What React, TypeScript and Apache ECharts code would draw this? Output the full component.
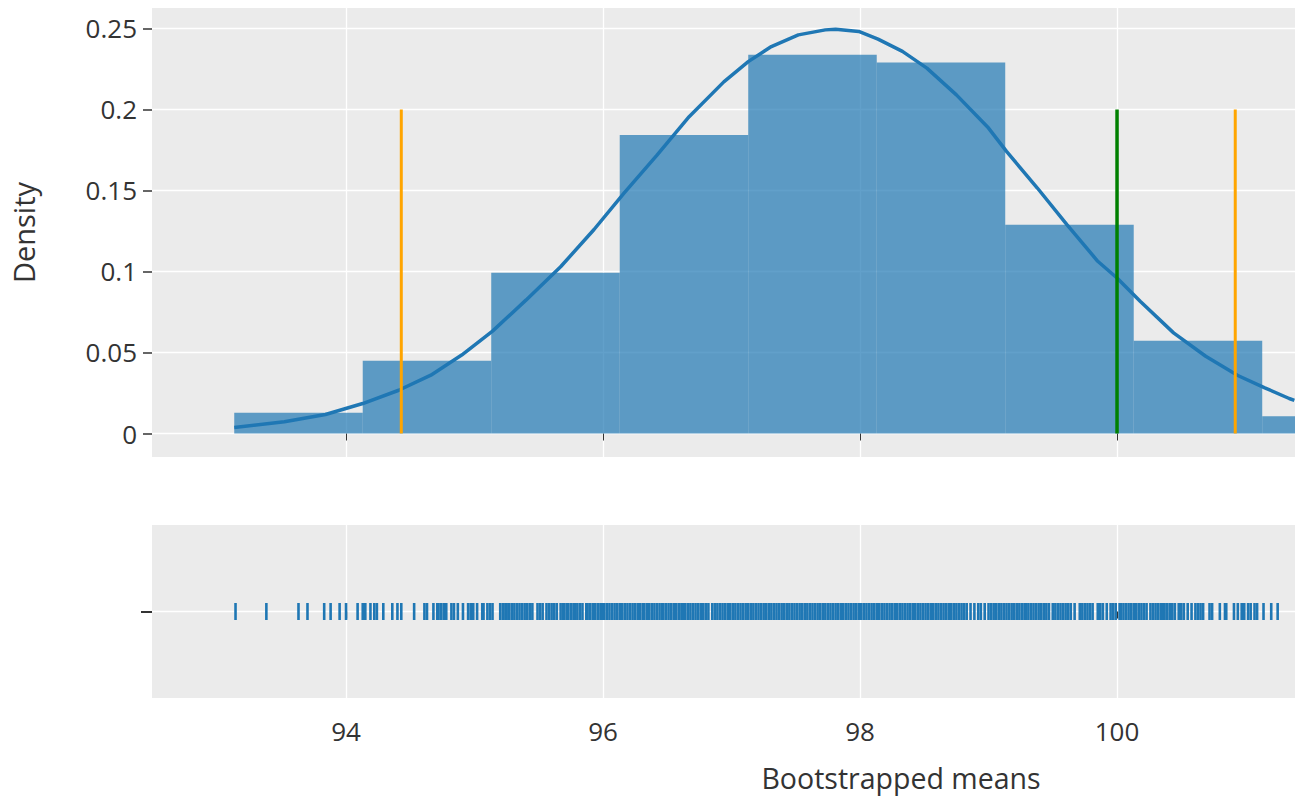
import React, { useEffect, useRef } from "react";
import * as echarts from "echarts";

// ---- data ----
const binStarts = [93.13, 94.13, 95.13, 96.13, 97.13, 98.13, 99.13, 100.13, 101.13];
const binWidth = 1.0;
const densities = [0.0128, 0.0449, 0.0992, 0.1842, 0.2337, 0.229, 0.1289, 0.0573, 0.0107];

const curveX = [
  93.13, 93.52, 93.84, 94.13, 94.41, 94.66, 94.9, 95.14, 95.4, 95.67, 95.93, 96.16, 96.42,
  96.67, 96.94, 97.13, 97.31, 97.52, 97.73, 97.81, 97.99, 98.14, 98.33, 98.52, 98.75, 99.0,
  99.14, 99.38, 99.61, 99.85, 100.0, 100.18, 100.44, 100.69, 100.94, 101.15, 101.34, 101.38,
];
const curveY = [
  0.0037, 0.0072, 0.0117, 0.0185, 0.0267, 0.036, 0.0484, 0.0632, 0.0823, 0.1029, 0.1259, 0.1481,
  0.1718, 0.1955, 0.217, 0.2295, 0.2388, 0.246, 0.2491, 0.2495, 0.2481, 0.2434, 0.2358, 0.2255,
  0.209, 0.1885, 0.1741, 0.1515, 0.1289, 0.1063, 0.096, 0.0816, 0.0621, 0.0477, 0.0358, 0.0282,
  0.0216, 0.0205,
];

const ciLower = 94.43;
const ciUpper = 100.92;
const nullValue = 100;
const markerTop = 0.2;

const rugValues = [
  93.14, 93.38, 93.63, 93.7, 93.83, 93.88, 93.95, 94.0, 94.09, 94.13, 94.15, 94.19, 94.22, 94.24,
  94.29, 94.36, 94.4, 94.43, 94.53,
  94.61, 94.63, 94.68, 94.71, 94.72, 94.74, 94.76, 94.78, 94.82, 94.84, 94.87, 94.91, 94.95,
  94.97, 94.99, 95.02, 95.06, 95.07, 95.1, 95.12, 95.14,
  95.2, 95.22, 95.24, 95.25, 95.27, 95.29, 95.31, 95.33, 95.35, 95.37, 95.39, 95.41, 95.43,
  95.45, 95.49, 95.51, 95.53, 95.56, 95.58, 95.6, 95.62, 95.64, 95.67, 95.69, 95.7, 95.72,
  95.73, 95.75, 95.77, 95.78, 95.8, 95.82, 95.84, 95.87, 95.88, 95.9, 95.92, 95.94, 95.96, 95.98,
  95.99, 96.01, 96.03, 96.05, 96.07, 96.09, 96.11, 96.13, 96.15, 96.17, 96.19, 96.21, 96.23,
  96.25, 96.27, 96.29, 96.31, 96.32, 96.34, 96.36, 96.38, 96.4, 96.42, 96.44, 96.46, 96.47,
  96.49, 96.51, 96.53, 96.55, 96.57, 96.59, 96.61, 96.62, 96.64, 96.66, 96.68, 96.7, 96.72,
  96.74, 96.76, 96.78, 96.8, 96.82,
  96.85, 96.87, 96.89, 96.91, 96.93, 96.95, 96.97, 96.99, 97.01, 97.03, 97.05, 97.07, 97.09,
  97.11, 97.13, 97.15, 97.17, 97.19, 97.21, 97.23, 97.25, 97.27, 97.29, 97.31, 97.33, 97.35,
  97.37, 97.39,
  97.41, 97.43, 97.45, 97.47, 97.49, 97.51, 97.53, 97.55, 97.57, 97.59, 97.61, 97.63, 97.65,
  97.67, 97.69, 97.71, 97.73, 97.75, 97.77, 97.79, 97.81, 97.83, 97.85, 97.87, 97.89, 97.91,
  97.93, 97.95, 97.97, 97.99, 98.01, 98.03, 98.05, 98.07, 98.09, 98.11, 98.13, 98.15, 98.17,
  98.19, 98.21, 98.23, 98.25, 98.27, 98.29, 98.31, 98.33, 98.35, 98.37, 98.39, 98.41, 98.43, 98.45,
  98.47, 98.49, 98.51, 98.53, 98.55, 98.57, 98.59, 98.61, 98.63, 98.65, 98.67, 98.69, 98.71,
  98.73, 98.75, 98.77, 98.79, 98.81, 98.83, 98.86, 98.89, 98.92, 98.94, 98.97, 99.0, 99.02,
  99.04, 99.06, 99.08, 99.1, 99.12, 99.14, 99.16, 99.18, 99.2, 99.22, 99.24, 99.26, 99.28,
  99.29, 99.31, 99.33, 99.35, 99.37, 99.39, 99.41, 99.43, 99.45, 99.47, 99.5, 99.52, 99.54,
  99.56, 99.58, 99.6, 99.62, 99.64, 99.67, 99.71, 99.73, 99.75, 99.77, 99.79, 99.81, 99.85,
  99.87, 99.89, 99.92,
  99.95, 99.97, 99.99, 100.02, 100.03, 100.05, 100.07, 100.09, 100.11, 100.13, 100.15, 100.17,
  100.19, 100.21, 100.23, 100.26, 100.28, 100.3, 100.32, 100.34, 100.36, 100.37, 100.39,
  100.41, 100.43, 100.45, 100.48, 100.5, 100.52, 100.55, 100.58, 100.61, 100.63, 100.65,
  100.67, 100.72, 100.74, 100.8, 100.84, 100.85, 100.91, 100.94, 100.97, 100.99, 101.02,
  101.04, 101.07, 101.09, 101.14, 101.2, 101.25,
];

const xTicks = [94, 96, 98, 100];
const yTicks = [0, 0.05, 0.1, 0.15, 0.2, 0.25];
const rugTicks = [0];

const X_MIN = 92.49;
const X_MAX = 101.385;
const Y_MIN = -0.0145;
const Y_MAX = 0.2626;

const X_TITLE = "Bootstrapped means";
const Y_TITLE = "Density";

const FONT = "'Open Sans', sans-serif";
const TXT = "rgb(51,51,51)";
const BG = "rgb(235,235,235)";
const BLUE = "#1f77b4";

export default function App() {
  const ref = useRef<HTMLDivElement>(null);

  useEffect(() => {
    if (!ref.current) return;
    const chart = echarts.init(ref.current, undefined, { renderer: "svg" });

    const splitLine = { show: true, lineStyle: { color: "#ffffff", width: 1.3 } };

    const option: any = {
      animation: false,
      grid: [
        { left: 152, top: 8, right: 0, height: 449, show: true, backgroundColor: BG, borderWidth: 0 },
        { left: 152, top: 525, right: 0, height: 173, show: true, backgroundColor: BG, borderWidth: 0 },
      ],
      graphic: [
        {
          type: "text",
          x: 901,
          y: 778,
          silent: true,
          style: {
            text: X_TITLE,
            fontSize: 28.5,
            lineHeight: 30,
            fontFamily: FONT,
            fill: TXT,
            align: "center",
            verticalAlign: "middle",
          },
        },
      ],
      xAxis: [
        {
          type: "value",
          gridIndex: 0,
          min: X_MIN,
          max: X_MAX,
          axisLine: { show: false },
          axisTick: { show: true, length: 7, customValues: xTicks, lineStyle: { color: TXT, width: 1 } },
          axisLabel: { show: false, customValues: xTicks },
          splitLine,
        },
        {
          type: "value",
          gridIndex: 1,
          min: X_MIN,
          max: X_MAX,
          axisLine: { show: false },
          axisTick: { show: true, length: 7, customValues: xTicks, lineStyle: { color: TXT, width: 1.3 } },
          axisLabel: { show: true, customValues: xTicks, fontSize: 26, color: TXT, fontFamily: FONT, margin: 20 },
          splitLine,
        },
      ],
      yAxis: [
        {
          type: "value",
          gridIndex: 0,
          min: Y_MIN,
          max: Y_MAX,
          axisLine: { show: false },
          axisTick: { show: true, length: 9, customValues: yTicks, lineStyle: { color: TXT, width: 1.5 } },
          axisLabel: { show: true, customValues: yTicks, fontSize: 26, color: TXT, fontFamily: FONT, margin: 15 },
          splitLine,
          name: Y_TITLE,
          nameLocation: "middle",
          nameGap: 114,
          nameRotate: 90,
          nameTextStyle: { fontSize: 29, color: TXT, fontFamily: FONT },
        },
        {
          type: "value",
          gridIndex: 1,
          min: -1,
          max: 1,
          axisLine: { show: false },
          axisTick: { show: true, length: 11, customValues: rugTicks, lineStyle: { color: TXT, width: 2 } },
          axisLabel: { show: false, customValues: rugTicks },
          splitLine,
        },
      ],
      series: [
        {
          type: "custom",
          xAxisIndex: 0,
          yAxisIndex: 0,
          clip: true,
          silent: true,
          encode: { x: 0, y: 1 },
          data: binStarts.map((s, i) => [s, densities[i]]),
          renderItem: (params: any, api: any) => {
            const x0 = api.value(0);
            const y = api.value(1);
            const p0 = api.coord([x0, y]);
            const p1 = api.coord([x0 + binWidth, 0]);
            return {
              type: "rect",
              shape: { x: p0[0], y: p0[1], width: p1[0] - p0[0], height: p1[1] - p0[1] },
              style: { fill: "rgba(31,119,180,0.7)" },
            };
          },
          z: 2,
        },
        {
          type: "line",
          xAxisIndex: 0,
          yAxisIndex: 0,
          silent: true,
          showSymbol: false,
          data: curveX.map((x, i) => [x, curveY[i]]),
          lineStyle: { color: BLUE, width: 3.5 },
          z: 3,
        },
        {
          type: "line",
          xAxisIndex: 0,
          yAxisIndex: 0,
          silent: true,
          showSymbol: false,
          data: [[ciLower, 0], [ciLower, markerTop]],
          lineStyle: { color: "#FFA500", width: 3 },
          z: 4,
        },
        {
          type: "line",
          xAxisIndex: 0,
          yAxisIndex: 0,
          silent: true,
          showSymbol: false,
          data: [[ciUpper, 0], [ciUpper, markerTop]],
          lineStyle: { color: "#FFA500", width: 3 },
          z: 4,
        },
        {
          type: "line",
          xAxisIndex: 0,
          yAxisIndex: 0,
          silent: true,
          showSymbol: false,
          data: [[nullValue, 0], [nullValue, markerTop]],
          lineStyle: { color: "#008000", width: 3.5 },
          z: 4,
        },
        {
          type: "scatter",
          xAxisIndex: 1,
          yAxisIndex: 1,
          silent: true,
          symbol: "rect",
          symbolSize: [2.6, 17],
          data: rugValues.map((v) => [v, 0]),
          itemStyle: { color: BLUE, opacity: 1 },
          z: 3,
        },
      ],
    };

    chart.setOption(option);
    return () => chart.dispose();
  }, []);

  return (
    <div
      style={{
        position: "fixed",
        left: 0,
        top: 0,
        width: 1295,
        height: 797,
        overflow: "hidden",
        background: "#ffffff",
      }}
    >
      <div ref={ref} style={{ width: 1295, height: 797 }} />
    </div>
  );
}
